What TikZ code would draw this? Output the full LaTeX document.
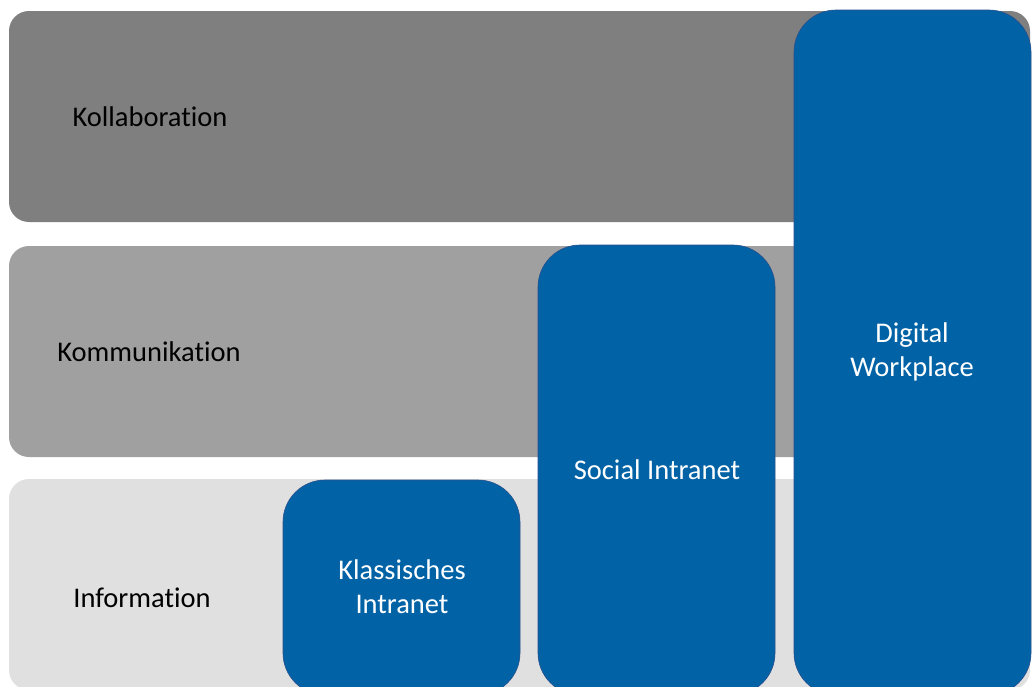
\documentclass[tikz,border=0pt]{standalone}
\usepackage{fontspec}
\setmainfont{Carlito}[Ligatures={NoCommon}]
\definecolor{kollab}{RGB}{127,127,127}
\definecolor{kommu}{RGB}{160,160,160}
\definecolor{info}{RGB}{224,224,224}
\definecolor{blu}{RGB}{2,98,166}
\definecolor{bluedge}{RGB}{40,80,140}
\begin{document}
\begin{tikzpicture}[x=1pt,y=-1pt,
  layer/.style={rounded corners=20pt},
  pillar/.style={rounded corners=42pt, fill=blu, draw=bluedge, line width=0.6pt},
  lbl/.style={font=\fontsize{28.5}{34}\selectfont, text=black, align=center},
  wlbl/.style={font=\fontsize{28.5}{34}\selectfont, text=white, align=center}]
\useasboundingbox (0,0) rectangle (1032,686);
\clip (0,0) rectangle (1032,686);
\fill[white] (0,0) rectangle (1032,686);
% layers
\fill[layer, kollab] (9,11) rectangle (1030,222);
\fill[layer, kommu] (9,246) rectangle (1030,457);
\fill[layer, info] (9,479) rectangle (1030,690);
\node[lbl] (kol) at (150,117) {Kollaboration};
\node[lbl] (kom) at (149,352) {Kommunikation};
\node[lbl] (inf) at (142,598) {Information};
% pillars
\draw[pillar] (283,480) rectangle (520,695);
\draw[pillar] (538,245) rectangle (775,695);
\draw[pillar] (794,10) rectangle (1031,695);
\node[wlbl] (ki) at (402,587) {Klassisches\\Intranet};
\node[wlbl] (si) at (657,470) {Social Intranet};
\node[wlbl] (dw) at (912,352) {Digital\\Workplace};
\end{tikzpicture}
\end{document}
